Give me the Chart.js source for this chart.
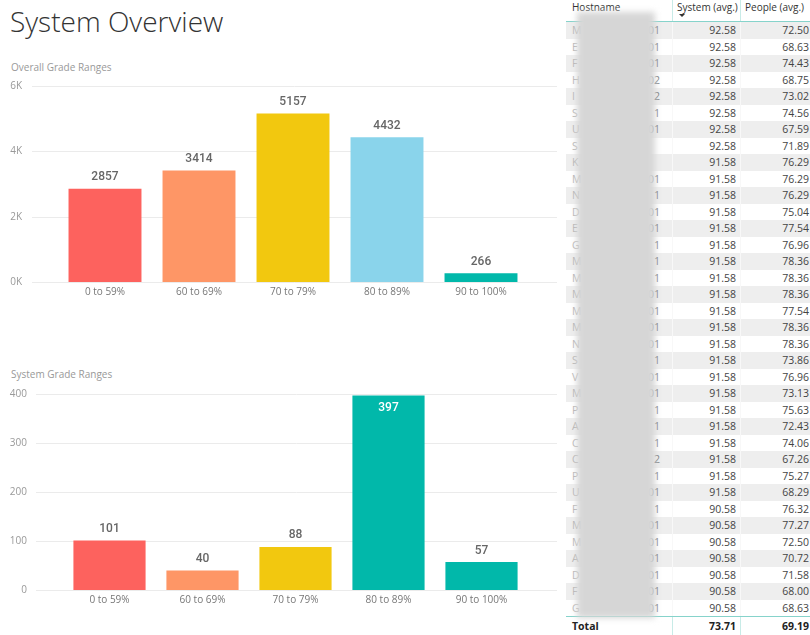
<!DOCTYPE html>
<html>
<head>
<meta charset="utf-8">
<script src="https://cdn.jsdelivr.net/npm/chart.js@4.4.0/dist/chart.umd.min.js"></script>
<style>
  body { margin: 0; width: 810px; height: 635px; overflow: hidden; background: #fff; position: relative; font-family: 'Open Sans', sans-serif; }
  #title { position: absolute; left: 10px; top: 2px; font-size: 28px; font-weight: 300; color: #333; white-space: nowrap; }
  .sub { position: absolute; left: 11px; font-size: 10px; color: #999; white-space: nowrap; }
  canvas { position: absolute; left: 0; }
  #tbl { position: absolute; left: 566px; top: 0; width: 247px; font-size: 10.5px; color: #444; }
  .row { display: flex; height: 16.5px; line-height: 16.5px; }
  .row:nth-child(odd) { background: #eeeeee; }
  .c1 { width: 107px; box-sizing: border-box; padding-left: 6px; border-right: 1px solid #f8f8f8; position: relative; }
  .c2 { width: 68px; box-sizing: border-box; padding-right: 4px; text-align: right; border-right: 1px solid #f8f8f8; }
  .c3 { width: 72px; box-sizing: border-box; padding-right: 4px; text-align: right; }
  .ini { color: #b4b4b4; }
  .tail { position: absolute; right: 12px; top: 0; color: #777; }
  #head { display: flex; height: 21px; border-bottom: 1px solid #86d3cb; font-size: 10px; color: #333; line-height: 15px; }
  #head div { box-sizing: border-box; }
  #head .c1, #head .c2 { border-right: 1px solid #c8ebe7; text-align: left; padding-left: 0; padding-right: 0; }
  #head .c1 { padding-left: 6px; }
  #head .c2 { padding-left: 4px; position: relative; }
  #head .c3 { text-align: left; padding-left: 4px; }
  #arrow { position: absolute; left: 6px; top: 14px; width: 0; height: 0; border-left: 3px solid transparent; border-right: 3px solid transparent; border-top: 3px solid #333; }
  #total { display: flex; height: 18px; line-height: 18px; border-top: 1.5px solid #86d3cb; font-weight: bold; color: #222; background: #fff; }
  #total .c1, #total .c2 { border-right: 1px solid #c8ebe7; }
  #blur { position: absolute; left: 577px; top: 12px; width: 78px; height: 606px; background: #d6d6d6; filter: blur(3px); z-index: 5; }
</style>
</head>
<body>
<div id="title">System Overview</div>
<div class="sub" style="top:60px">Overall Grade Ranges</div>
<canvas id="overall" width="560" height="230" style="top:76px"></canvas>
<div class="sub" style="top:367px">System Grade Ranges</div>
<canvas id="system" width="560" height="230" style="top:384px"></canvas>
<div id="tbl"></div>
<div id="blur"></div>
<script>
const gradeRanges = ["0 to 59%", "60 to 69%", "70 to 79%", "80 to 89%", "90 to 100%"];
const overallCounts = [2857, 3414, 5157, 4432, 266];
const systemCounts = [101, 40, 88, 397, 57];

// hostnames are blurred in the source, only the edges are readable
const hostInitials = ["M", "E", "F", "H", "I", "S", "U", "S", "K", "M", "N", "D", "E", "G", "M", "M", "M", "M",
  "M", "N", "S", "V", "M", "P", "A", "C", "C", "P", "U", "F", "M", "M", "A", "D", "F", "G"];
const hostTails = ["01", "01", "01", "02", "2", "1", "01", "", "", "01", "1", "01", "01", "1", "1", "1", "01", "501",
  "01", "01", "1", "01", "01", "1", "1", "1", "2", "1", "01", "1", "501", "01", "01", "01", "01", "01"];
const systemAvg = ["92.58", "92.58", "92.58", "92.58", "92.58", "92.58", "92.58", "92.58", "91.58", "91.58", "91.58",
  "91.58", "91.58", "91.58", "91.58", "91.58", "91.58", "91.58", "91.58", "91.58", "91.58", "91.58", "91.58", "91.58",
  "91.58", "91.58", "91.58", "91.58", "91.58", "90.58", "90.58", "90.58", "90.58", "90.58", "90.58", "90.58"];
const peopleAvg = ["72.50", "68.63", "74.43", "68.75", "73.02", "74.56", "67.59", "71.89", "76.29", "76.29", "76.29",
  "75.04", "77.54", "76.96", "78.36", "78.36", "78.36", "77.54", "78.36", "78.36", "73.86", "76.96", "73.13", "75.63",
  "72.43", "74.06", "67.26", "75.27", "68.29", "76.32", "77.27", "72.50", "70.72", "71.58", "68.00", "68.63"];
const totalSystem = "73.71";
const totalPeople = "69.19";

const overallColors = ["#FD625E", "#FE9666", "#F2C80F", "#8AD4EB", "#01B8AA"];
const systemColors = ["#FD625E", "#FE9666", "#F2C80F", "#01B8AA", "#01B8AA"];

Chart.defaults.font.family = "'Open Sans', sans-serif";

// value labels above the bars, pushed inside when there is no room
const barLabels = {
  id: "barLabels",
  afterDatasetsDraw(chart) {
    const { ctx, chartArea } = chart;
    const meta = chart.getDatasetMeta(0);
    const values = chart.data.datasets[0].data;
    ctx.save();
    ctx.font = "500 12px Roboto";
    ctx.textAlign = "center";
    ctx.textBaseline = "middle";
    meta.data.forEach((bar, i) => {
      let y = bar.y - 11.5;
      if (y - 7 < chartArea.top) {
        y = bar.y + 13;
        ctx.fillStyle = "#fff";
      } else {
        ctx.fillStyle = "#666";
      }
      ctx.fillText(String(values[i]), bar.x, y);
    });
    ctx.restore();
  },
};

// Power BI draws the gridlines wider than the category band
const wideGrid = {
  id: "wideGrid",
  beforeDatasetsDraw(chart, args, opts) {
    const { ctx } = chart;
    const y = chart.scales.y;
    ctx.save();
    ctx.strokeStyle = "#ebebeb";
    ctx.lineWidth = 1;
    y.ticks.forEach((t, i) => {
      const py = Math.round(y.getPixelForTick(i)) + 0.5;
      ctx.beginPath();
      ctx.moveTo(opts.left, py);
      ctx.lineTo(opts.right, py);
      ctx.stroke();
    });
    ctx.restore();
  },
};

function makeChart(id, counts, colors, y) {
  return new Chart(document.getElementById(id), {
    type: "bar",
    data: {
      labels: gradeRanges,
      datasets: [
        {
          data: counts,
          backgroundColor: colors,
          categoryPercentage: 1,
          barPercentage: 0.776,
        },
      ],
    },
    options: {
      responsive: false,
      animation: false,
      layout: { padding: { top: 10, right: 32, left: 0, bottom: 0 } },
      plugins: {
        legend: { display: false },
        tooltip: { enabled: false },
        wideGrid: { left: y.gridLeft, right: 557 },
      },
      scales: {
        x: {
          grid: { display: false, drawTicks: false },
          border: { display: false },
          afterFit: (s) => { s.height = 24; },
          ticks: { autoSkip: false, maxRotation: 0, padding: 4, color: "#777", font: { size: 10 } },
        },
        y: {
          min: 0,
          max: y.max,
          grid: { display: false, drawTicks: true, tickLength: y.width - y.labelRight - 3 },
          border: { display: false },
          afterFit: (s) => { s.width = y.width; },
          ticks: { stepSize: y.step, padding: 3, color: "#999", font: { size: 10 }, callback: y.fmt },
        },
      },
    },
    plugins: [wideGrid, barLabels],
  });
}

makeChart("overall", overallCounts, overallColors,
  { max: 6000, step: 2000, width: 58, labelRight: 22, gridLeft: 32, fmt: (v) => v / 1000 + "K" });
makeChart("system", systemCounts, systemColors,
  { max: 400, step: 100, width: 63, labelRight: 27, gridLeft: 36, fmt: (v) => v });

// table
const tbl = document.getElementById("tbl");
let html = '<div id="head"><div class="c1">Hostname</div><div class="c2">System (avg.)<div id="arrow"></div></div><div class="c3">People (avg.)</div></div><div id="rows">';
hostInitials.forEach((h, i) => {
  html += '<div class="row"><div class="c1"><span class="ini">' + h + '</span><span class="tail">' + hostTails[i] +
    '</span></div><div class="c2">' + systemAvg[i] + '</div><div class="c3">' + peopleAvg[i] + "</div></div>";
});
html += '</div><div id="total"><div class="c1" style="padding-left:6px">Total</div><div class="c2">' + totalSystem +
  '</div><div class="c3">' + totalPeople + "</div></div>";
tbl.innerHTML = html;
</script>
</body>
</html>
